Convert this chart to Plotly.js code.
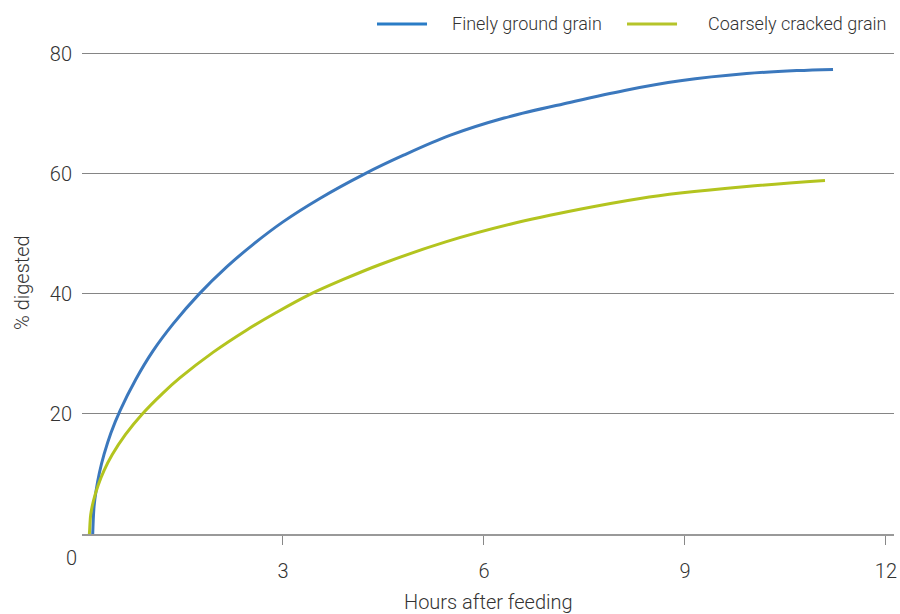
<!DOCTYPE html>
<html>
<head>
<meta charset="utf-8">
<script src="https://cdn.plot.ly/plotly-3.0.1.min.js"></script>
<style>html,body{margin:0;padding:0;background:#fff;}#chart{width:900px;height:614px;}</style>
</head>
<body>
<div id="chart"></div>
<script>
// Hours after feeding vs % digested
const fineHours = [0.16, 0.18, 0.21, 0.26, 0.33, 0.43, 0.57, 0.8, 1.06, 1.36, 1.75, 2.16, 2.56, 3.0, 3.55, 4.22, 4.8, 5.49, 6.3, 7.28, 8.1, 8.93, 9.92, 10.67, 11.21];
const fineDigested = [0, 4.6, 7.2, 10.2, 13.3, 16.8, 20.6, 25.7, 30.5, 35.0, 40.0, 44.5, 48.3, 52.0, 55.9, 60.0, 63.1, 66.4, 69.3, 71.9, 73.9, 75.5, 76.7, 77.2, 77.4];
const coarseHours = [0.1, 0.11, 0.13, 0.17, 0.24, 0.33, 0.45, 0.65, 0.9, 1.2, 1.46, 1.96, 2.46, 2.9, 3.38, 3.9, 4.45, 5.44, 6.39, 7.43, 8.33, 8.93, 9.92, 11.09];
const coarseDigested = [-1.0, 0, 3.2, 5.5, 8.1, 10.6, 13.2, 16.6, 20.0, 23.4, 26.0, 30.3, 34.0, 36.9, 39.8, 42.4, 44.9, 48.7, 51.6, 54.1, 55.9, 56.8, 57.9, 58.9];
const seriesNames = ["Finely ground grain", "Coarsely cracked grain"];
const xTicks = [3, 6, 9, 12];
const yTicks = [20, 40, 60, 80];

const FONT = "Roboto, 'Liberation Sans', sans-serif";
const TXT = "#333";
const curveColors = ["#3b78bd", "#b3c41f"];
const legendColors = ["#2a7cc6", "#b5c42a"];

const traces = [
  {x: fineHours, y: fineDigested, name: seriesNames[0], mode: "lines",
   line: {color: curveColors[0], width: 3, shape: "spline", smoothing: 1}},
  {x: coarseHours, y: coarseDigested, name: seriesNames[1], mode: "lines",
   line: {color: curveColors[1], width: 3, shape: "spline", smoothing: 1}}
];

// legend drawn as paper-referenced shapes + text
const legendY = 1.0581;
const legendItems = [
  {x0: 0.3633, x1: 0.4249, tx: 0.4532},
  {x0: 0.6712, x1: 0.7328, tx: 0.7685}
];
const shapes = legendItems.map((it, i) => ({
  type: "line", xref: "paper", yref: "paper", x0: it.x0, x1: it.x1, y0: legendY, y1: legendY,
  line: {color: legendColors[i], width: 3}
}));
const annotations = legendItems.map((it, i) => ({
  xref: "paper", yref: "paper", x: it.tx, y: legendY, xanchor: "left", yanchor: "middle",
  text: seriesNames[i], showarrow: false, font: {size: 18, color: TXT, family: FONT, weight: 300}
}));
annotations.push(
  {x: 0, y: 0, xref: "x", yref: "y", text: "0", showarrow: false,
   xshift: -11, yshift: -24, font: {size: 20, color: TXT, family: FONT, weight: 300}},
  {xref: "paper", yref: "paper", x: 0.5, y: 0, xanchor: "center", yanchor: "middle",
   yshift: -68, text: "Hours after feeding", showarrow: false,
   font: {size: 20, color: TXT, family: FONT, weight: 300}},
  {xref: "paper", yref: "paper", x: 0, y: 0.5 + 10 / 482, xanchor: "center", yanchor: "middle",
   xshift: -60, textangle: -90, text: "% digested", showarrow: false,
   font: {size: 20, color: TXT, family: FONT, weight: 300}}
);

const layout = {
  width: 900, height: 614,
  margin: {l: 82, r: 6, t: 52, b: 80},
  paper_bgcolor: "#fff", plot_bgcolor: "#fff",
  font: {family: FONT, color: TXT, size: 20, weight: 300},
  showlegend: false,
  xaxis: {range: [0, 12.12], tickvals: xTicks, ticktext: xTicks.map(String),
          showgrid: false, zeroline: false, showline: true, linecolor: "#999", linewidth: 2,
          ticks: "outside", ticklen: 9, tickwidth: 1, tickcolor: "#888", ticklabelstandoff: 9,
          tickfont: {size: 20, color: TXT, family: FONT, weight: 300}},
  yaxis: {range: [0, 80.3], tickvals: yTicks, ticktext: yTicks.map(String),
          showgrid: true, gridcolor: "#858585", gridwidth: 1, zeroline: false, showline: false,
          ticks: "", ticklabelstandoff: 9, tickfont: {size: 20, color: TXT, family: FONT, weight: 300}},
  shapes: shapes,
  annotations: annotations
};
Plotly.newPlot("chart", traces, layout, {displayModeBar: false, staticPlot: true});
</script>
</body>
</html>
